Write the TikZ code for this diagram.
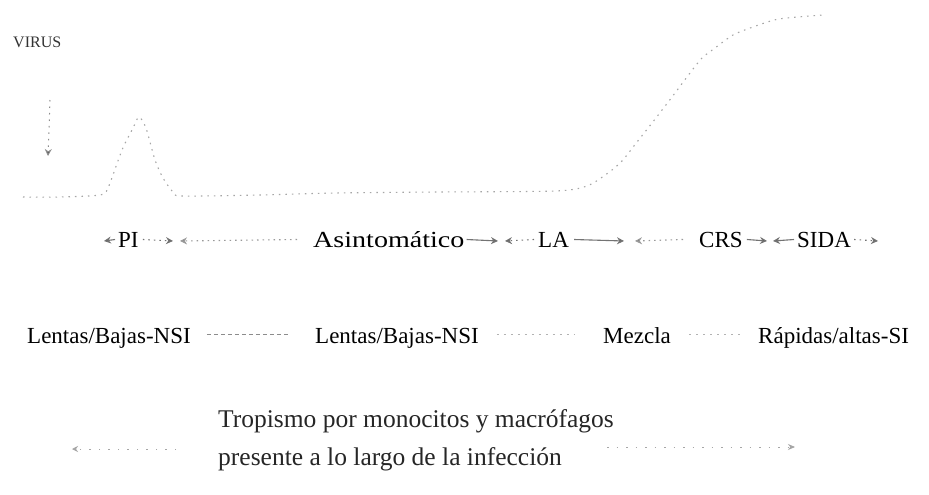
\documentclass[tikz,border=0pt]{standalone}
\usepackage{fontspec}
\setmainfont{Liberation Serif}
\usetikzlibrary{arrows.meta}
\begin{document}
\begin{tikzpicture}[x=1pt,y=-1pt,
  lbl/.style={font=\fontsize{23}{27}\selectfont, inner sep=0pt, anchor=base west, text height=15pt, text depth=0pt},
  captext/.style={font=\fontsize{25.5}{30}\selectfont, inner sep=0pt, anchor=base west, text=black!85},
  arr/.style={draw=black!55, line width=1.1pt, -{Stealth[length=7pt,width=7pt,fill=black!85]}},
  arrdot/.style={arr, dash pattern=on 1.5pt off 4pt},
  link/.style={draw=black!45, line width=1pt, dash pattern=on 4pt off 3pt},
  linkfaint/.style={draw=black!30, line width=1pt, dash pattern=on 2pt off 5pt},
  curve/.style={draw=black!35, line width=1.1pt, dash pattern=on 1.5pt off 5pt},
  faintarr/.style={draw=black!35, line width=1pt, dash pattern=on 1.5pt off 8pt}
]
\useasboundingbox[fill=white] (0,0) rectangle (929,495);

% ---- graph ----
\node[font=\fontsize{16}{18}\selectfont, text=black!80, inner sep=0pt, anchor=base west] (virus) at (13,48) {VIRUS};
\coordinate (ytop) at (50,100);
\coordinate (ybot) at (48,156);
\draw[faintarr, draw=black!45, dash pattern=on 1.5pt off 5pt, -{Stealth[length=7pt,width=7pt,fill=black!80]}] (ytop) -- (ybot);

\draw[curve] plot[smooth, tension=0.45] coordinates {
  (23,197) (60,197) (100,195) (108,188) (122,150) (133,128) (139,117)
  (146,128) (155,160) (163,178) (173,192) (182,196) (260,195) (335,193)
  (438,192) (555,191) (587,186) (608,173) (622,161) (637,142) (652,123)
  (672,97) (690,73) (702,58) (715,48) (733,35) (753,27) (779,19) (823,15)};

% ---- phases row ----
\node[lbl] (pi)   at (118,247) {PI};
\node[lbl] (asin) at (313,247) {\scalebox{1.22}[1]{Asintomático}};
\node[lbl] (la)   at (538,247) {LA};
\node[lbl] (crs)  at (699,247) {CRS};
\node[lbl] (sida) at (797,247) {SIDA};

\coordinate (piL)   at (104,241);
\coordinate (piR)   at (173,241);
\coordinate (asinL) at (180,241);
\coordinate (asinR) at (498,241);
\coordinate (laL)   at (505,241);
\coordinate (laR)   at (624,241);
\coordinate (crsL)  at (635,241);
\coordinate (crsR)  at (767,241);
\coordinate (sidaL) at (773,241);
\coordinate (sidaR) at (878,241);

\draw[arr] ([xshift=-3pt]pi.west) -- (piL);
\draw[arrdot] ([xshift=4pt]pi.east) -- (piR);
\draw[arrdot, draw=black!40] ([xshift=-16pt]asin.west) -- (asinL);
\draw[arr] ([xshift=2pt]asin.east) -- (asinR);
\draw[arrdot] ([xshift=-4pt]la.west) -- (laL);
\draw[arr] ([xshift=5pt]la.east) -- (laR);
\draw[arrdot, draw=black!40] ([xshift=-16pt]crs.west) -- (crsL);
\draw[arr] ([xshift=4pt]crs.east) -- (crsR);
\draw[arr] ([xshift=-3pt]sida.west) -- (sidaL);
\draw[arrdot] ([xshift=3pt]sida.east) -- (sidaR);

% ---- tropism row ----
\node[lbl] (l1) at (27,343)  {Lentas/Bajas-NSI};
\node[lbl] (l2) at (315,343) {Lentas/Bajas-NSI};
\node[lbl] (mz) at (603,343) {Mezcla};
\node[lbl] (ra) at (758,343) {Rápidas/altas-SI};

\draw[link, shorten <=16pt, shorten >=27pt] ([yshift=1.5pt]l1.east) -- ([yshift=1.5pt]l2.west);
\draw[linkfaint, shorten <=18pt, shorten >=28pt] ([yshift=1.5pt]l2.east) -- ([yshift=1.5pt]mz.west);
\draw[linkfaint, shorten <=18pt, shorten >=15pt] ([yshift=1.5pt]mz.east) -- ([yshift=1.5pt]ra.west);

% ---- caption ----
\node[captext] (c1) at (218,427) {Tropismo por monocitos y macrófagos};
\node[captext] (c2) at (218,465) {presente a lo largo de la infección};

\coordinate (tl) at (72,449);
\coordinate (tr) at (795,447);
\draw[faintarr, -{Stealth[length=6pt,width=6pt,fill=black!60]}, shorten <=42pt] (tl -| c1.west) -- (tl);
\draw[faintarr, -{Stealth[length=7pt,width=6pt,fill=black!80]}, shorten <=45pt] (tr -| c2.east) -- (tr);
\end{tikzpicture}
\end{document}
